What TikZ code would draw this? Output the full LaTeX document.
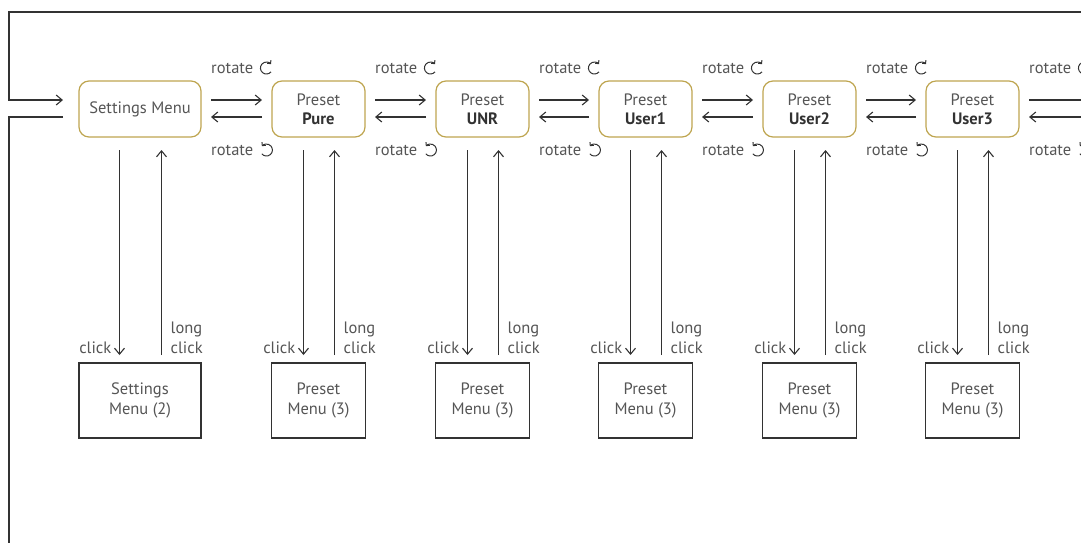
\documentclass[tikz,border=0pt]{standalone}
\usepackage{fontspec}
\setmainfont{PT Sans}
\usetikzlibrary{arrows.meta,positioning}
\definecolor{gold}{RGB}{190,165,80}
\definecolor{ink}{RGB}{50,50,50}
\definecolor{txt}{RGB}{85,85,85}
\tikzset{
  menubox/.style={draw=gold, line width=1.2pt, rounded corners=10pt, minimum height=56pt,
    inner sep=0pt, outer sep=0pt, align=center, text=txt, font=\fontsize{16.5}{20}\selectfont},
  subbox/.style={draw=ink, line width=1.1pt, minimum height=75pt, inner sep=0pt, outer sep=0pt,
    align=center, text=txt, font=\fontsize{16.5}{19.5}\selectfont},
  lbl/.style={inner sep=0pt, text=txt, font=\fontsize{16.5}{20}\selectfont},
  wire/.style={draw=ink, line width=1.1pt},
  turn/.style={draw=ink, line width=1pt, -{Straight Barb[length=2.5pt,width=5pt]}},
}
\begin{document}
\begin{tikzpicture}[x=1pt,y=-1pt,>={Straight Barb[length=6pt,width=10pt]}]
  \useasboundingbox (0,0) rectangle (1081,542);
  \clip (0,0) rectangle (1081,542);
  % top row
  \node[menubox, minimum width=122pt] (settings) at (140,109) {Settings Menu};
  \foreach \nm/\cx/\tx in {pure/318.5/Pure, unr/482.5/UNR, userA/645.5/User1,
      userB/809.5/User2, userC/972.5/User3}
    \node[menubox, minimum width=93pt] (\nm) at (\cx,109) {Preset\\[-1pt]\textbf{\color{ink}\tx}};
  \coordinate (next) at (1100,109);
  % bottom row
  \node[subbox, minimum width=122pt] (settingsSub) at (140,400.5) {Settings\\Menu (2)};
  \foreach \nm/\cx in {pure/318.5, unr/482.5, userA/645.5, userB/809.5, userC/972.5}
    \node[subbox, minimum width=94pt] (\nm Sub) at (\cx,400.5) {Preset\\Menu (3)};
  % rotate arrows
  \foreach \a/\b [count=\i] in {settings/pure, pure/unr, unr/userA, userA/userB, userB/userC, userC/next}{
    \draw[wire,->] ([xshift=10pt,yshift=9pt]\a.east) -- ([xshift=-10pt,yshift=9pt]\b.west);
    \draw[wire,->] ([xshift=-10pt,yshift=-8pt]\b.west) -- ([xshift=10pt,yshift=-8pt]\a.east);
    \node[lbl, anchor=west] (rotCw\i) at ([xshift=10pt,yshift=41pt]\a.east) {rotate};
    \node[lbl, anchor=west] (rotCcw\i) at ([xshift=10pt,yshift=-41pt]\a.east) {rotate};
    \draw[turn] ([xshift=13pt]rotCw\i.east) ++(40:6) arc[start angle=40, end angle=320, radius=6];
    \draw[turn] ([xshift=13pt]rotCcw\i.east) ++(140:6) arc[start angle=140, end angle=-140, radius=6];
  }
  % click arrows
  \foreach \a/\dx [count=\i] in {settings/20.5, pure/15, unr/15, userA/15, userB/15, userC/15}{
    \draw[wire,->] ([xshift=-\dx pt,yshift=-13pt]\a.south) -- ([xshift=-\dx pt,yshift=8pt]\a Sub.north);
    \draw[wire,->] ([xshift=\dx pt+1pt,yshift=8pt]\a Sub.north) -- ([xshift=\dx pt+1pt,yshift=-13pt]\a.south);
    \node[lbl, anchor=base east] (click\i) at ([xshift=-\dx pt-8pt,yshift=10pt]\a Sub.north) {click};
    \node[lbl, anchor=base west, align=left] (long\i) at ([xshift=\dx pt+10pt,yshift=10pt]\a Sub.north)
      {long\\click};
  }
  % loop back
  \coordinate (tr) at (1100,12);
  \coordinate (tl) at (9,12);
  \coordinate (bl) at (9,560);
  \draw[wire,->] (tr) -- (tl) |- ([xshift=-16pt,yshift=9pt]settings.west);
  \draw[wire] ([xshift=-16pt,yshift=-8pt]settings.west) -| (bl);
\end{tikzpicture}
\end{document}
